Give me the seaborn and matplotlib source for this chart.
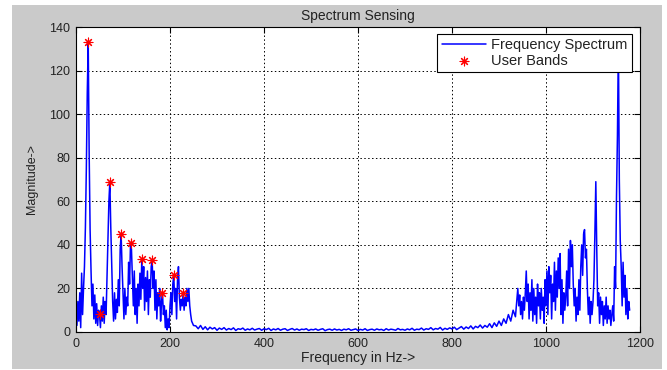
import numpy as np
import pandas as pd
import seaborn as sns
import matplotlib
matplotlib.use("Agg")
import matplotlib.pyplot as plt
from matplotlib.patches import Rectangle

# ---------------- data ----------------
# low band, 0..250 Hz every 2 Hz
left_mag = [10, 3, 14, 5, 18, 2, 27, 8, 20, 30,
            48, 75, 110, 133, 82, 47, 28, 12, 22, 6,
            17, 4, 13, 3, 10, 8.4, 2, 12, 5, 16,
            4, 14, 8, 25, 42, 60, 69, 48, 30, 14,
            5, 18, 6, 15, 9, 24, 12, 38, 45, 30,
            18, 6, 20, 8, 16, 12, 32, 22, 41, 38,
            25, 12, 28, 8, 20, 4, 22, 12, 27, 15,
            33.5, 20, 30, 10, 25, 14, 28, 8, 24, 16,
            30, 33, 20, 28, 10, 24, 6, 18, 12, 20,
            5, 14, 18, 8, 12, 2, 10, 1, 6, 2,
            12, 18, 8, 22, 26, 14, 20, 6, 24, 30,
            16, 10, 15, 12, 18, 10, 16, 12, 20, 14,
            20, 12, 8, 5, 4, 3]

# quiet band, 255..935 Hz every 5 Hz
mid_mag = [2.8, 1.5, 3.0, 1.2, 2.4, 1.0, 2.2, 1.4, 2.0, 0.8,
           1.8, 1.2, 2.0, 0.9, 1.6, 1.1, 1.9, 0.7, 1.5, 1.2,
           1.8, 0.8, 1.4, 1.0, 1.7, 0.9, 1.3, 1.6, 0.8, 1.5,
           1.1, 1.7, 0.7, 1.4, 1.0, 1.6, 0.8, 1.3, 1.5, 0.7,
           1.2, 1.6, 0.9, 1.4, 0.8, 1.3, 1.1, 1.5, 0.7, 1.2,
           1.0, 1.4, 0.8, 1.2, 1.5, 0.6, 1.1, 1.3, 0.8, 1.4,
           0.9, 1.2, 0.7, 1.3, 1.0, 1.5, 0.8, 1.1, 1.4, 0.7,
           1.2, 0.9, 1.5, 0.7, 1.1, 1.3, 0.8, 1.4, 1.0, 1.2,
           0.7, 1.5, 0.9, 1.3, 1.1, 0.8, 1.6, 1.0, 1.2, 0.8,
           1.4, 1.0, 1.7, 0.8, 1.3, 1.1, 1.8, 0.9, 1.5, 1.2,
           2.0, 1.0, 1.6, 1.3, 2.1, 0.9, 1.7, 1.2, 1.9, 1.4,
           2.2, 1.1, 1.8, 2.5, 1.3, 2.3, 1.6, 2.8, 1.4, 2.6,
           2.0, 3.2, 1.8, 3.0, 2.2, 3.8, 2.0, 4.2, 2.6, 5.0,
           3.0, 6.0, 4.0, 8.0, 5.0, 10.0, 7.0]

# high (mirrored) band, 940..1178 Hz every 2 Hz
right_mag = [20, 12, 17, 8, 14, 6, 16, 10, 18, 28,
             14, 22, 6, 18, 10, 24, 5, 20, 8, 16,
             4, 22, 12, 18, 6, 20, 10, 16, 4, 24,
             12, 28, 8, 30, 18, 26, 6, 22, 14, 32,
             10, 28, 16, 34, 20, 36, 8, 24, 4, 18,
             10, 16, 28, 12, 38, 20, 42, 30, 40, 22,
             12, 20, 5, 16, 8, 24, 10, 30, 40, 26,
             45, 47, 34, 38, 20, 8, 16, 4, 14, 8,
             14, 24, 45, 69, 38, 12, 18, 4, 16, 8,
             14, 3, 12, 6, 16, 4, 12, 6, 10, 3,
             8, 12, 5, 30, 20, 62, 90, 133, 70, 42,
             30, 12, 32, 16, 26, 8, 20, 6, 14, 10]

band_freq = [26, 50, 72, 96, 116, 140, 162, 184, 208, 228]
band_mag = [133, 8.4, 69, 45, 41, 33.5, 33, 18, 26, 18]

x_ticks = [0, 200, 400, 600, 800, 1000, 1200]
y_ticks = [0, 20, 40, 60, 80, 100, 120, 140]

# ---------------- assemble ----------------
left_f = np.arange(len(left_mag)) * 2
mid_f = 255 + np.arange(len(mid_mag)) * 5
right_f = 940 + np.arange(len(right_mag)) * 2
spec = pd.DataFrame({
    "freq": np.concatenate([left_f, mid_f, right_f]),
    "mag": np.concatenate([left_mag, mid_mag, right_mag]),
})
bands = pd.DataFrame({"freq": band_freq, "mag": band_mag})

# ---------------- plot ----------------
sns.set_theme(style="white")
plt.rcParams["font.family"] = ["Liberation Sans", "DejaVu Sans"]
txt = "#222222"

fig = plt.figure(figsize=(6.67, 3.70), dpi=100)
fig.patch.set_facecolor("white")
fig.patches.append(Rectangle((12 / 667, 1 / 370), 650 / 667, 364 / 370,
                             transform=fig.transFigure, facecolor="#cacaca",
                             edgecolor="none", zorder=-10))
ax = fig.add_axes([76 / 667, 1 - 332 / 370, 564 / 667, 305 / 370])
ax.set_facecolor("white")

sns.lineplot(data=spec, x="freq", y="mag", ax=ax, color="#0000ff",
             linewidth=1.1, estimator=None, sort=False,
             label="Frequency Spectrum", zorder=3)
sns.scatterplot(data=bands, x="freq", y="mag", ax=ax, color="red",
                marker=(8, 2, 0), s=40, linewidth=0.8,
                label="User Bands", zorder=4)

ax.set_xlim(0, 1200)
ax.set_ylim(0, 140)
ax.set_xticks(x_ticks)
ax.set_yticks(y_ticks)
ax.tick_params(direction="in", length=4, width=0.8, top=True, right=True,
               bottom=True, left=True, labelsize=9, labelcolor=txt,
               colors="black", pad=4)
for lab in ax.get_xticklabels() + ax.get_yticklabels():
    lab.set_color(txt)
ax.grid(True, color="black", linestyle=(0, (1.5, 2.5)), linewidth=0.7)
ax.set_axisbelow(False)
for s in ax.spines.values():
    s.set_color("black")
    s.set_linewidth(0.8)
    s.set_zorder(6)

ax.set_title("Spectrum Sensing", fontsize=10, color=txt, pad=5)
ax.set_xlabel("Frequency in Hz->", fontsize=10, color=txt, labelpad=1)
ax.set_ylabel("Magnitude->", fontsize=9, color=txt, labelpad=8)

leg = ax.legend(loc="upper right", bbox_to_anchor=(0.986, 0.977),
                borderaxespad=0, fontsize=10.5, frameon=True, fancybox=False,
                framealpha=1, edgecolor="black", handlelength=3.0,
                borderpad=0.3, labelspacing=0.1, handletextpad=0.4)
leg.get_frame().set_linewidth(0.8)
leg.set_zorder(10)
for t in leg.get_texts():
    t.set_color(txt)

fig.savefig("out.png", dpi=100, facecolor=fig.get_facecolor())
